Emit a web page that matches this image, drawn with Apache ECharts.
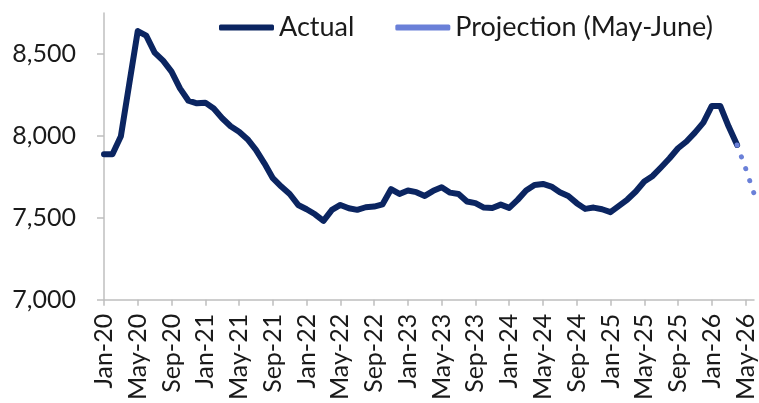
<!DOCTYPE html>
<html>
<head>
<meta charset="utf-8">
<script src="https://cdn.jsdelivr.net/npm/echarts@6/dist/echarts.min.js"></script>
<style>
  html, body { margin: 0; padding: 0; background: #fff; }
  #chart { width: 759px; height: 403px; }
</style>
</head>
<body>
<div id="chart"></div>
<script>
// month names and years used for the category axis
const monthNames = ["Jan", "Feb", "Mar", "Apr", "May", "Jun", "Jul", "Aug", "Sep", "Oct", "Nov", "Dec"]
const years = ["20", "21", "22", "23", "24", "25", "26"]
const lastMonthIndex = 5 // Jun-26

const categories = []
years.forEach((yy, yi) => {
  monthNames.forEach((m, mi) => {
    if (yi === years.length - 1 && mi > lastMonthIndex) return
    categories.push(m + "-" + yy)
  })
})

// Actual, Jan-20 .. Apr-26
const actual = [
  7888, 7888, 7998, 8320, 8640, 8612, 8508, 8459, 8392, 8290, 8215, 8199,
  8203, 8167, 8108, 8059, 8026, 7980, 7915, 7833, 7742, 7691, 7646, 7579,
  7553, 7522, 7482, 7549, 7579, 7559, 7549, 7565, 7569, 7583, 7675, 7646,
  7667, 7657, 7634, 7665, 7687, 7654, 7646, 7600, 7590, 7563, 7560, 7581,
  7561, 7610, 7667, 7701, 7707, 7691, 7657, 7634, 7590, 7555, 7563, 7553,
  7535, 7573, 7612, 7661, 7722, 7756, 7809, 7864, 7925, 7966, 8020, 8081,
  8183, 8183, 8057, 7945
]
// Projection, Apr-26 .. Jun-26
const projection = [7945, 7803, 7649]
const yTicks = [7000, 7500, 8000, 8500]

const projData = categories.map((c, i) => {
  const k = i - (categories.length - projection.length)
  return k >= 0 ? projection[k] : null
})

const navy = "#0b2561"
const lightBlue = "#6a80d8"
const axisGrey = "#bfbfbf"
const font = "Lato"

const chart = echarts.init(document.getElementById("chart"))
chart.setOption({
  animation: false,
  grid: { left: 104, right: 5, top: 13, bottom: 103 },
  legend: {
    left: 214,
    top: 9,
    itemGap: 41,
    itemWidth: 55,
    itemHeight: 6,
    textStyle: { fontFamily: font, fontSize: 27, color: "#1a1a1a" },
    data: [
      { name: "Actual", icon: "roundRect", itemStyle: { color: navy } },
      { name: "Projection (May-June)", icon: "roundRect", itemStyle: { color: lightBlue } }
    ]
  },
  xAxis: {
    type: "category",
    data: categories,
    boundaryGap: false,
    axisLine: { lineStyle: { color: axisGrey, width: 1.5 } },
    axisTick: { interval: 3, length: 6, lineStyle: { color: axisGrey, width: 1.5 } },
    axisLabel: {
      interval: 3,
      rotate: 90,
      margin: 14,
      fontFamily: font,
      fontSize: 25,
      color: "#1a1a1a"
    },
    splitLine: { show: false }
  },
  yAxis: {
    type: "value",
    min: 7000,
    max: 8750,
    axisLine: { show: true, lineStyle: { color: axisGrey, width: 1.5 } },
    axisTick: { show: true, length: 7, customValues: yTicks, lineStyle: { color: axisGrey, width: 1.5 } },
    axisLabel: {
      customValues: yTicks,
      margin: 28,
      fontFamily: font,
      fontSize: 25,
      color: "#1a1a1a",
      formatter: v => v.toLocaleString("en-US")
    },
    splitLine: { show: false }
  },
  series: [
    {
      name: "Actual",
      type: "line",
      data: actual,
      symbol: "none",
      lineStyle: { color: navy, width: 6, join: "round", cap: "round" },
      itemStyle: { color: navy },
      z: 2
    },
    {
      name: "Projection (May-June)",
      type: "line",
      data: projData,
      symbol: "none",
      connectNulls: false,
      lineStyle: { color: lightBlue, width: 5, type: [0.1, 12.5], cap: "round" },
      itemStyle: { color: lightBlue },
      z: 3
    }
  ]
})
</script>
</body>
</html>
